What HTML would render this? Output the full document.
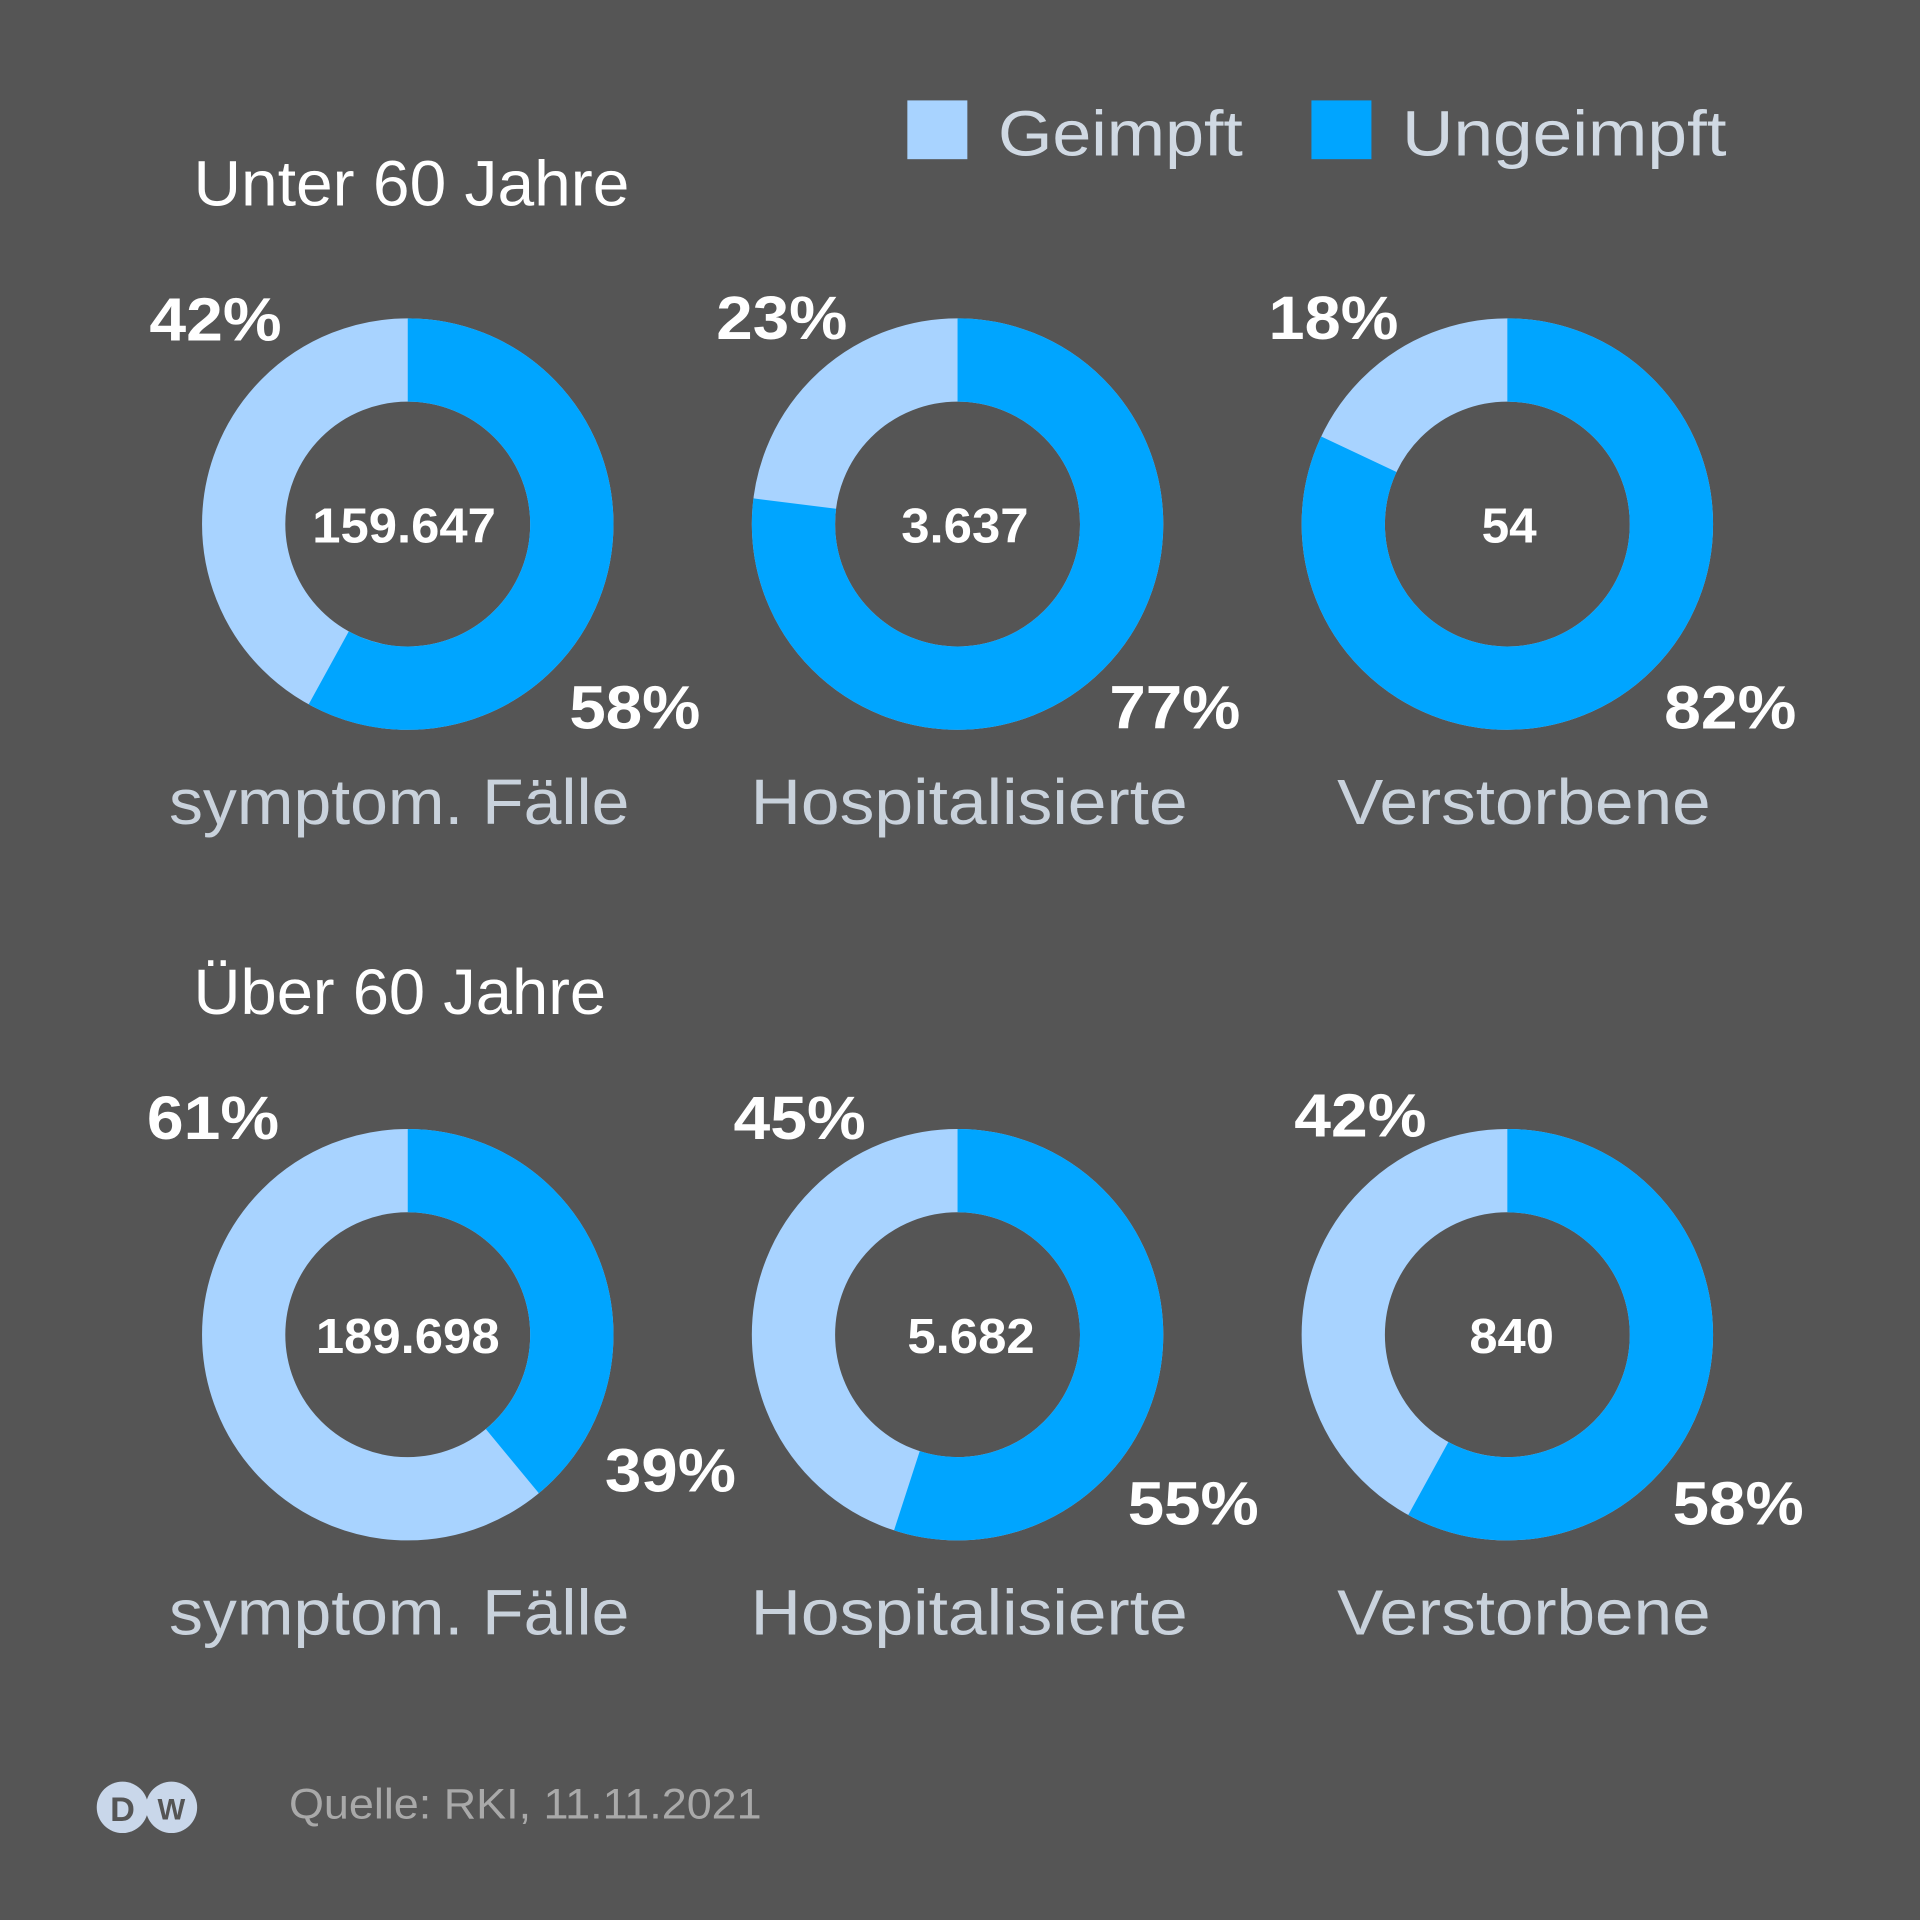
<!DOCTYPE html>
<html><head><meta charset="utf-8"><style>
html,body{margin:0;padding:0;background:#555555;}
svg{display:block;}
text{font-family:"Liberation Sans",sans-serif;}
.t{fill:#ffffff;font-size:52px;}
.lg{fill:#d0d9e3;font-size:52px;}
.c{fill:#ffffff;font-size:40px;font-weight:bold;}
.cat{fill:#c9d2dc;font-size:52px;}
</style></head><body>
<svg width="1920" height="1920" viewBox="0 0 1568 1568" xmlns="http://www.w3.org/2000/svg">
<rect width="1568" height="1568" fill="#555555"/>
<rect x="741" y="82" width="49" height="48" fill="#a8d3ff"/>
<text class="lg" x="815" y="127" textLength="200" lengthAdjust="spacingAndGlyphs">Geimpft</text>
<rect x="1071" y="82" width="49" height="48" fill="#00a5ff"/>
<text class="lg" x="1145" y="127" textLength="265" lengthAdjust="spacingAndGlyphs">Ungeimpft</text>
<text class="t" x="158" y="168" textLength="356" lengthAdjust="spacingAndGlyphs">Unter 60 Jahre</text>
<text class="t" x="158" y="828" textLength="337" lengthAdjust="spacingAndGlyphs">Über 60 Jahre</text>

<g fill="none" stroke-width="68">
<circle cx="333" cy="428" r="134" stroke="#a8d3ff"/>
<circle cx="333" cy="428" r="134" stroke="#00a5ff" pathLength="100" stroke-dasharray="58 100" transform="rotate(-90 333 428)"/>
<circle cx="782" cy="428" r="134" stroke="#a8d3ff"/>
<circle cx="782" cy="428" r="134" stroke="#00a5ff" pathLength="100" stroke-dasharray="77 100" transform="rotate(-90 782 428)"/>
<circle cx="1231" cy="428" r="134" stroke="#a8d3ff"/>
<circle cx="1231" cy="428" r="134" stroke="#00a5ff" pathLength="100" stroke-dasharray="82 100" transform="rotate(-90 1231 428)"/>
<circle cx="333" cy="1090" r="134" stroke="#a8d3ff"/>
<circle cx="333" cy="1090" r="134" stroke="#00a5ff" pathLength="100" stroke-dasharray="39 100" transform="rotate(-90 333 1090)"/>
<circle cx="782" cy="1090" r="134" stroke="#a8d3ff"/>
<circle cx="782" cy="1090" r="134" stroke="#00a5ff" pathLength="100" stroke-dasharray="55 100" transform="rotate(-90 782 1090)"/>
<circle cx="1231" cy="1090" r="134" stroke="#a8d3ff"/>
<circle cx="1231" cy="1090" r="134" stroke="#00a5ff" pathLength="100" stroke-dasharray="58 100" transform="rotate(-90 1231 1090)"/>
</g>

<text class="c" x="255" y="443" textLength="150" lengthAdjust="spacingAndGlyphs">159.647</text>
<text class="c" x="736" y="443" textLength="104" lengthAdjust="spacingAndGlyphs">3.637</text>
<text class="c" x="1210" y="443" textLength="45" lengthAdjust="spacingAndGlyphs">54</text>
<text class="c" x="258" y="1105" textLength="150" lengthAdjust="spacingAndGlyphs">189.698</text>
<text class="c" x="741" y="1105" textLength="104" lengthAdjust="spacingAndGlyphs">5.682</text>
<text class="c" x="1200" y="1105" textLength="69" lengthAdjust="spacingAndGlyphs">840</text>

<g style="fill:#fff;font-weight:bold;font-size:50px">
<text x="122" y="278" textLength="108" lengthAdjust="spacingAndGlyphs">42%</text>
<text x="465" y="595" textLength="107" lengthAdjust="spacingAndGlyphs">58%</text>
<text x="585" y="277" textLength="107" lengthAdjust="spacingAndGlyphs">23%</text>
<text x="906" y="595" textLength="107" lengthAdjust="spacingAndGlyphs">77%</text>
<text x="1036" y="277" textLength="106" lengthAdjust="spacingAndGlyphs">18%</text>
<text x="1359" y="595" textLength="108" lengthAdjust="spacingAndGlyphs">82%</text>
<text x="120" y="930" textLength="108" lengthAdjust="spacingAndGlyphs">61%</text>
<text x="494" y="1218" textLength="107" lengthAdjust="spacingAndGlyphs">39%</text>
<text x="599" y="930" textLength="108" lengthAdjust="spacingAndGlyphs">45%</text>
<text x="921" y="1245" textLength="107" lengthAdjust="spacingAndGlyphs">55%</text>
<text x="1057" y="928" textLength="108" lengthAdjust="spacingAndGlyphs">42%</text>
<text x="1366" y="1245" textLength="107" lengthAdjust="spacingAndGlyphs">58%</text>
</g>

<text class="cat" x="138" y="673" textLength="376" lengthAdjust="spacingAndGlyphs">symptom. Fälle</text>
<text class="cat" x="613" y="673" textLength="357" lengthAdjust="spacingAndGlyphs">Hospitalisierte</text>
<text class="cat" x="1092" y="673" textLength="305" lengthAdjust="spacingAndGlyphs">Verstorbene</text>
<text class="cat" x="138" y="1335" textLength="376" lengthAdjust="spacingAndGlyphs">symptom. Fälle</text>
<text class="cat" x="613" y="1335" textLength="357" lengthAdjust="spacingAndGlyphs">Hospitalisierte</text>
<text class="cat" x="1092" y="1335" textLength="305" lengthAdjust="spacingAndGlyphs">Verstorbene</text>

<circle cx="100" cy="1476" r="21" fill="#c9d7ea"/>
<circle cx="140" cy="1476" r="21" fill="#c9d7ea"/>
<text x="100" y="1487" font-size="28" font-weight="bold" fill="#555" text-anchor="middle">D</text>
<text x="140" y="1486" font-size="24" font-weight="bold" fill="#555" text-anchor="middle">W</text>
<text x="236" y="1485" font-size="35" fill="#a9a9a9" textLength="386" lengthAdjust="spacingAndGlyphs">Quelle: RKI, 11.11.2021</text>
</svg>
</body></html>
